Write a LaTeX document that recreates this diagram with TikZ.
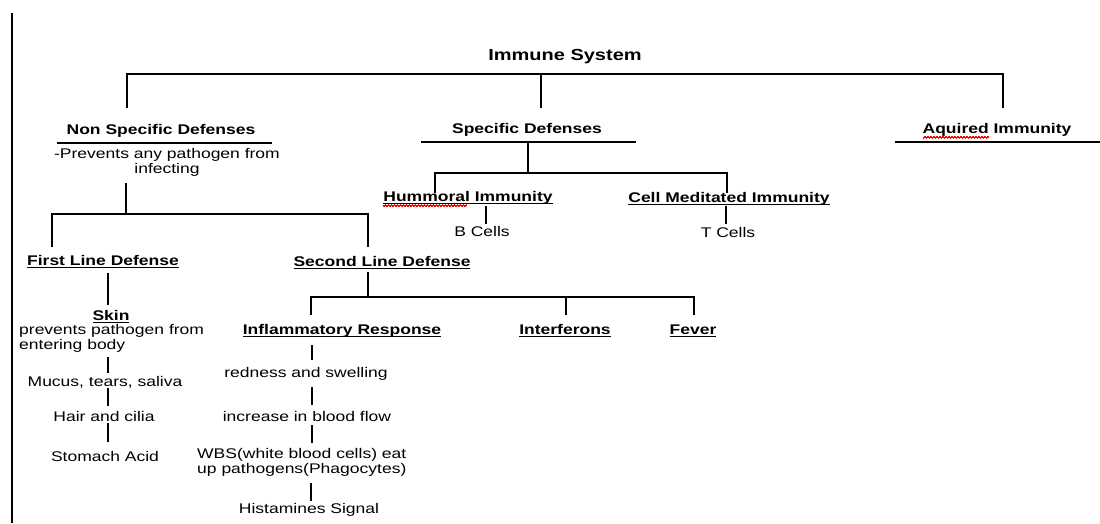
\documentclass[tikz,border=0pt]{standalone}
\usepackage{fontspec}
\setmainfont{Liberation Sans}[FakeStretch=1.25]
\usetikzlibrary{positioning}

% underline drawn just below the baseline
\newcommand{\headul}[1]{\setbox0=\hbox{#1}\rlap{\rule[-2.2pt]{\wd0}{0.9pt}}\box0\relax}
% red spell-check squiggle
\newcommand{\redsq}[1]{\setbox0=\hbox{#1}\rlap{\color{red}\leaders\hbox to 3pt{\rule[-5pt]{1.5pt}{1.1pt}\rule[-4pt]{1.5pt}{1.1pt}}\hskip\wd0}\box0\relax}

\tikzset{
  head/.style={font=\fontsize{16}{18}\selectfont\bfseries, inner sep=0pt},
  sub/.style={font=\fontsize{14}{15}\selectfont\bfseries, inner sep=0pt},
  leaf/.style={font=\fontsize{14}{15}\selectfont, inner sep=0pt},
  bar/.style={line width=2.2pt},
  stem/.style={line width=2.8pt},
}

\begin{document}
\begin{tikzpicture}[x=1pt, y=-1pt]
  \useasboundingbox (0,0) rectangle (1100,523);
  \draw[line width=1.2pt] (12,13) -- (12,523);

  % top level
  \node[head] (sys) at (565,57) {Immune System};
  \node[sub] (nsd) at (161,131) {Non Specific Defenses};
  \node[sub] (sd) at (527,130) {Specific Defenses};
  \node[sub] (aq) at (997,131) {\redsq{Aquired} Immunity};

  \coordinate (sys-j) at (541,74);
  \coordinate (nsd-in) at (127,108);
  \coordinate (sd-in) at (541,108);
  \coordinate (aq-in) at (1003,108);
  \draw[bar] (nsd-in) |- (sys-j) -| (aq-in);
  \draw[stem] (sys-j) -- (sd-in);

  % rules under the headings
  \coordinate (nsd-l) at (57,143);  \coordinate (nsd-r) at (272,143);
  \coordinate (sd-l) at (421,142);  \coordinate (sd-r) at (636,142);
  \coordinate (aq-l) at (895,142);  \coordinate (aq-r) at (1100,142);
  \draw[line width=1.8pt] (nsd-l) -- (nsd-r);
  \draw[line width=1.8pt] (sd-l) -- (sd-r);
  \draw[line width=1.8pt] (aq-l) -- (aq-r);

  % non specific defenses
  \node[leaf, align=center] (nsd-txt) at (167,162) {-Prevents any pathogen from\\infecting};
  \node[sub] (fl) at (103,262) {\headul{First Line Defense}};
  \node[sub] (sl) at (382,263) {\headul{Second Line Defense}};

  \coordinate (nsd-out) at (126,183);
  \coordinate (nsd-j) at (126,214);
  \coordinate (fl-in) at (52,247);
  \coordinate (sl-in) at (368,247);
  \draw[stem] (nsd-out) -- (nsd-j);
  \draw[bar] (fl-in) |- (nsd-j) -| (sl-in);

  % first line
  \node[sub] (skin) at (111,317) {\headul{Skin}};
  \node[leaf, align=left, anchor=west] (skin-txt) at (19,338) {prevents pathogen from\\entering body};
  \node[leaf] (mucus) at (105,382) {Mucus, tears, saliva};
  \node[leaf] (hair) at (104,416) {Hair and cilia};
  \node[leaf] (acid) at (105,456) {Stomach Acid};

  \coordinate (fl-a) at (108,273);   \coordinate (fl-b) at (108,305);
  \coordinate (skin-a) at (108,357); \coordinate (skin-b) at (108,373);
  \coordinate (mucus-a) at (108,388); \coordinate (mucus-b) at (108,406);
  \coordinate (hair-a) at (108,423); \coordinate (hair-b) at (108,442);
  \draw[stem] (fl-a) -- (fl-b);
  \draw[stem] (skin-a) -- (skin-b);
  \draw[stem] (mucus-a) -- (mucus-b);
  \draw[stem] (hair-a) -- (hair-b);

  % second line
  \node[sub] (inf) at (342,331) {\headul{Inflammatory Response}};
  \node[sub] (intf) at (565,331) {\headul{Interferons}};
  \node[sub] (fev) at (693,331) {\headul{Fever}};

  \coordinate (sl-out) at (368,272);
  \coordinate (sl-j) at (368,297);
  \coordinate (inf-in) at (311,315);
  \coordinate (intf-in) at (566,315);
  \coordinate (fev-in) at (694,315);
  \draw[stem] (sl-out) -- (sl-j);
  \draw[bar] (inf-in) |- (sl-j) -| (fev-in);
  \draw[stem] (intf-in) -- (intf-in |- sl-j);

  \node[leaf] (red) at (306,374) {redness and swelling};
  \node[leaf] (incr) at (307,416) {increase in blood flow};
  \node[leaf, align=left, anchor=west] (wbs) at (197,462) {WBS(white blood cells) eat\\up pathogens(Phagocytes)};
  \node[leaf] (hist) at (309,510) {Histamines Signal};

  \coordinate (inf-a) at (312,345);  \coordinate (inf-b) at (312,360);
  \coordinate (red-a) at (312,387);  \coordinate (red-b) at (312,405);
  \coordinate (incr-a) at (312,425); \coordinate (incr-b) at (312,443);
  \coordinate (wbs-a) at (311,483);  \coordinate (wbs-b) at (311,501);
  \draw[stem] (inf-a) -- (inf-b);
  \draw[stem] (red-a) -- (red-b);
  \draw[stem] (incr-a) -- (incr-b);
  \draw[stem] (wbs-a) -- (wbs-b);

  % specific defenses
  \node[sub] (hum) at (468,199) {\headul{\redsq{Hummoral} Immunity}};
  \node[sub] (cmi) at (729,199) {\headul{Cell Meditated Immunity}};
  \node[leaf] (bc) at (482,231) {B Cells};
  \node[leaf] (tc) at (728,232) {T Cells};

  \coordinate (sd-out) at (528,142);
  \coordinate (sd-j) at (528,173);
  \coordinate (hum-in) at (435,193);
  \coordinate (cmi-in) at (727,193);
  \draw[stem] (sd-out) -- (sd-j);
  \draw[bar] (hum-in) |- (sd-j) -| (cmi-in);

  \coordinate (hum-a) at (486,206); \coordinate (hum-b) at (486,224);
  \coordinate (cmi-a) at (726,206); \coordinate (cmi-b) at (726,224);
  \draw[stem] (hum-a) -- (hum-b);
  \draw[stem] (cmi-a) -- (cmi-b);
\end{tikzpicture}
\end{document}
